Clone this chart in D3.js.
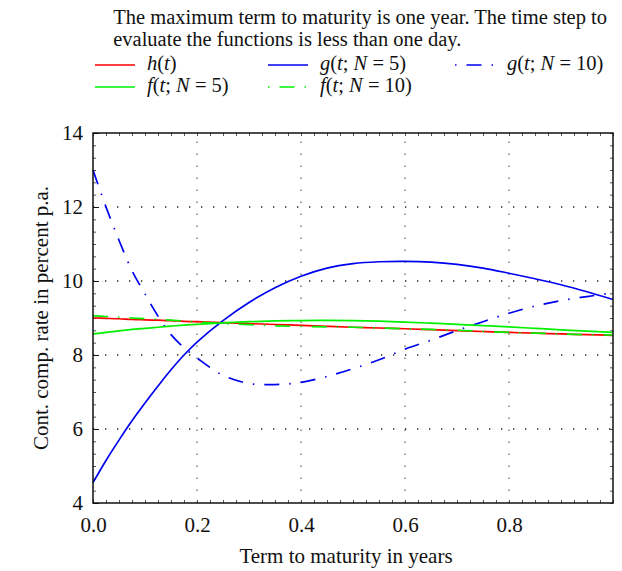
<!DOCTYPE html>
<html>
<head>
<meta charset="utf-8">
<script src="https://cdn.jsdelivr.net/npm/d3@7"></script>
<style>
  body { margin: 0; background: #fff; }
  text { font-family: "Liberation Serif", "Times New Roman", serif; fill: #111; }
</style>
</head>
<body>
<div id="chart"></div>
<script>
const W = 622, H = 571;
const margin = {top: 133, right: 9, bottom: 68, left: 93};
const width = W - margin.left - margin.right,
      height = H - margin.top - margin.bottom;
const FS = 21, FS_TOP = 20.5;

// term to maturity (years)
const terms = [0, 0.025, 0.05, 0.075, 0.1, 0.125, 0.15, 0.175, 0.2, 0.25, 0.3, 0.35,
               0.4, 0.45, 0.5, 0.55, 0.6, 0.65, 0.7, 0.75, 0.8, 0.85, 0.9, 0.95, 1.0];

const hVals   = [9.00, 8.99, 8.98, 8.96, 8.95, 8.94, 8.93, 8.91, 8.90, 8.875, 8.85, 8.825,
                 8.80, 8.775, 8.75, 8.73, 8.71, 8.685, 8.66, 8.635, 8.61, 8.59, 8.57, 8.55, 8.53];
const g5Vals  = [4.55, 5.15, 5.70, 6.22, 6.70, 7.16, 7.60, 8.00, 8.35, 8.93, 9.42, 9.82,
                 10.13, 10.35, 10.47, 10.52, 10.53, 10.51, 10.45, 10.35, 10.21, 10.06, 9.90, 9.71, 9.50];
const g10Vals = [13.0, 12.0, 11.1, 10.28, 9.65, 9.05, 8.55, 8.20, 7.92, 7.45, 7.23, 7.20,
                 7.26, 7.42, 7.63, 7.87, 8.16, 8.40, 8.66, 8.90, 9.13, 9.32, 9.47, 9.58, 9.68];
const f5Vals  = [8.57, 8.61, 8.65, 8.69, 8.72, 8.75, 8.78, 8.81, 8.83, 8.87, 8.90, 8.92,
                 8.93, 8.935, 8.93, 8.915, 8.89, 8.86, 8.83, 8.795, 8.76, 8.72, 8.68, 8.645, 8.61];
const f10Vals = [9.06, 9.04, 9.02, 9.00, 8.98, 8.96, 8.94, 8.92, 8.89, 8.85, 8.82, 8.79,
                 8.77, 8.76, 8.75, 8.73, 8.71, 8.69, 8.67, 8.64, 8.61, 8.59, 8.57, 8.55, 8.54];

const xTicks = [0, 0.2, 0.4, 0.6, 0.8];
const yTicks = [4, 6, 8, 10, 12, 14];

const titleLines = ["The maximum term to maturity is one year. The time step to",
                    "evaluate the functions is less than one day."];

const DASHDOT = "15,10,1.5,10";
const series = [
  {name: "h",   vals: hVals,   color: "#ff0000", dash: null,    label: [["h","i"],["(",""],["t","i"],[")",""]]},
  {name: "g5",  vals: g5Vals,  color: "#0000f0", dash: null,    label: [["g","i"],["(",""],["t","i"],["; ",""],["N","i"],[" = 5)",""]]},
  {name: "g10", vals: g10Vals, color: "#0000f0", dash: DASHDOT, label: [["g","i"],["(",""],["t","i"],["; ",""],["N","i"],[" = 10)",""]]},
  {name: "f5",  vals: f5Vals,  color: "#00f000", dash: null,    label: [["f","i"],["(",""],["t","i"],["; ",""],["N","i"],[" = 5)",""]]},
  {name: "f10", vals: f10Vals, color: "#00f000", dash: DASHDOT, label: [["f","i"],["(",""],["t","i"],["; ",""],["N","i"],[" = 10)",""]]}
];

const svg = d3.select("#chart").append("svg")
  .attr("width", W).attr("height", H);

const g = svg.append("g")
  .attr("transform", `translate(${margin.left},${margin.top})`);

const x = d3.scaleLinear().domain([0, 1]).range([0, width]);
const y = d3.scaleLinear().domain([4, 14]).range([height, 0]);

// grid
g.selectAll("line.vgrid").data(xTicks.slice(1))
  .join("line").attr("class", "vgrid")
  .attr("x1", d => x(d)).attr("x2", d => x(d))
  .attr("y1", height).attr("y2", 0)
  .attr("stroke", "#888").attr("stroke-width", 1.6)
  .attr("stroke-dasharray", "1.6,10.4");
g.selectAll("line.hgrid").data(yTicks.slice(1, -1))
  .join("line").attr("class", "hgrid")
  .attr("x1", 0).attr("x2", width)
  .attr("y1", d => y(d)).attr("y2", d => y(d))
  .attr("stroke", "#222").attr("stroke-width", 1.3)
  .attr("stroke-dasharray", "1.3,10.7");

// minor ticks, all four sides
const xMinor = d3.range(0, 1.0001, 0.025);
const yMinor = d3.range(4, 14.0001, 1 / 3);
g.append("g").call(d3.axisBottom(x).tickValues(xMinor).tickSize(-3).tickFormat(""))
  .attr("transform", `translate(0,${height})`);
g.append("g").call(d3.axisTop(x).tickValues(xMinor).tickSize(-3).tickFormat(""));
g.append("g").call(d3.axisLeft(y).tickValues(yMinor).tickSize(-3).tickFormat(""));
g.append("g").call(d3.axisRight(y).tickValues(yMinor).tickSize(-3).tickFormat(""))
  .attr("transform", `translate(${width},0)`);
g.selectAll(".domain").remove();
g.selectAll(".tick line").attr("stroke", "#555");

// main axes with labels
const xAxis = g.append("g").attr("transform", `translate(0,${height})`)
  .call(d3.axisBottom(x).tickValues(xTicks).tickSize(0).tickPadding(14).tickFormat(d3.format(".1f")));
const yAxis = g.append("g")
  .call(d3.axisLeft(y).tickValues(yTicks).tickSize(-6).tickPadding(10).tickFormat(d3.format("d")));
[xAxis, yAxis].forEach(a => {
  a.select(".domain").remove();
  a.selectAll("text").style("font-family", '"Liberation Serif", serif')
    .style("font-size", FS + "px").attr("fill", "#111");
  a.selectAll(".tick line").attr("stroke", "#111");
});

// curves
const line = d3.line()
  .x((d, i) => x(terms[i]))
  .y(d => y(d))
  .curve(d3.curveCatmullRom.alpha(0.5));

const order = ["h", "g5", "g10", "f5", "f10"];
order.forEach(k => {
  const s = series.find(s => s.name === k);
  g.append("path")
    .attr("d", line(s.vals))
    .attr("fill", "none")
    .attr("stroke", s.color)
    .attr("stroke-width", 1.7)
    .attr("stroke-dasharray", s.dash);
});

// frame
g.append("rect").attr("width", width).attr("height", height)
  .attr("fill", "none").attr("stroke", "#111").attr("stroke-width", 1.5);

// axis titles
svg.append("text")
  .attr("x", 346).attr("y", 563)
  .attr("text-anchor", "middle").style("font-size", FS + "px")
  .text("Term to maturity in years");
svg.append("text")
  .attr("transform", `translate(48,${margin.top + height / 2}) rotate(-90)`)
  .attr("text-anchor", "middle").style("font-size", FS + "px")
  .text("Cont. comp. rate in percent p.a.");

// title (right end of first line near x = 607)
const t1 = svg.append("text").attr("y", 24).style("font-size", FS_TOP + "px").text(titleLines[0]);
const titleX = 607 - t1.node().getComputedTextLength();
t1.attr("x", titleX);
svg.append("text").attr("x", titleX).attr("y", 46).style("font-size", FS_TOP + "px").text(titleLines[1]);

// legend: 3 columns, 2 rows
const legendPos = [
  {k: "h",   col: 0, row: 0}, {k: "g5", col: 1, row: 0}, {k: "g10", col: 2, row: 0},
  {k: "f5",  col: 0, row: 1}, {k: "f10", col: 1, row: 1}
];
const colX = [95, 268, 455];
const rowY = [70, 92];
legendPos.forEach(p => {
  const s = series.find(s => s.name === p.k);
  const lx = colX[p.col], ly = rowY[p.row];
  svg.append("line")
    .attr("x1", lx).attr("x2", lx + 40)
    .attr("y1", ly - 5).attr("y2", ly - 5)
    .attr("stroke", s.color).attr("stroke-width", 1.7)
    .attr("stroke-dasharray", s.dash ? "1.5,10,15,10" : null);
  const tx = svg.append("text").attr("x", lx + 52).attr("y", ly).style("font-size", FS_TOP + "px");
  s.label.forEach(([txt, st]) => {
    tx.append("tspan").style("font-style", st === "i" ? "italic" : "normal").text(txt);
  });
});
</script>
</body>
</html>
